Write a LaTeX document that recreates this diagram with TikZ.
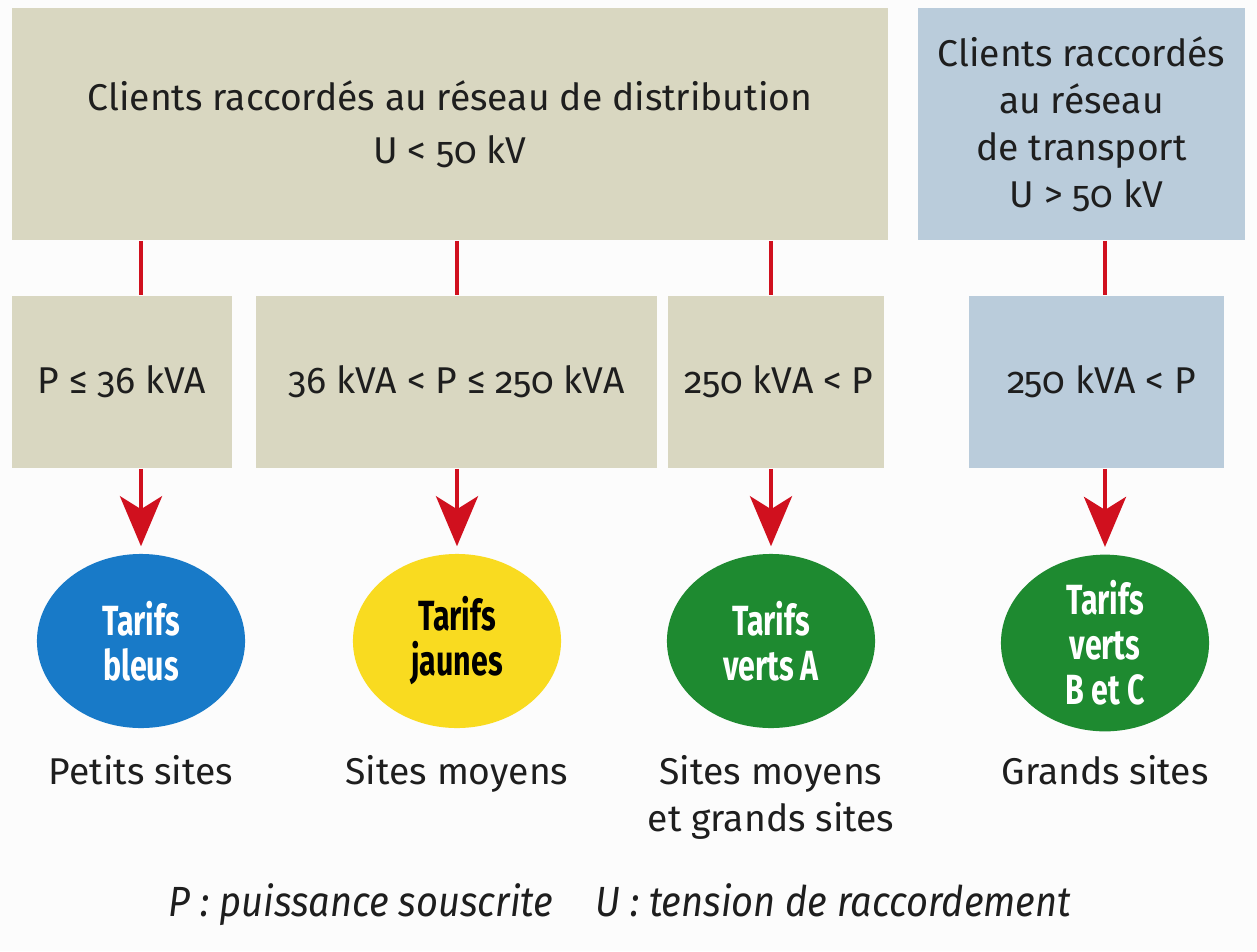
\documentclass[tikz,border=0pt]{standalone}
\usepackage{fontspec}
\setmainfont{Fira Sans}[Numbers=OldStyle]
\newfontfamily\tarifsfont{Fira Sans}[FakeStretch=0.72]
\newfontfamily\notefont{Fira Sans}[FakeStretch=0.9]
\usetikzlibrary{positioning,shapes.geometric,arrows.meta}
\definecolor{beige}{RGB}{217,215,193}
\definecolor{gris}{RGB}{186,204,219}
\definecolor{rouge}{RGB}{208,16,30}
\definecolor{bleu}{RGB}{24,122,200}
\definecolor{jaune}{RGB}{249,219,32}
\definecolor{vert}{RGB}{30,138,48}
\definecolor{texte}{RGB}{30,30,30}
\definecolor{fond}{RGB}{252,252,252}

\begin{document}
\begin{tikzpicture}
            [
            x=0.01cm, y=-0.01cm,
            every node/.style={font=\fontsize{10.6}{13.4}\selectfont, text=texte},
            boite/.style={inner sep=0, align=center},
            tarif/.style={ellipse, inner sep=0, minimum width=2.08cm, minimum height=1.74cm,
              align=center, font=\tarifsfont\bfseries\fontsize{12}{12.8}\selectfont},
            legende/.style={align=center, inner sep=0},
            lien/.style={draw=rouge, line width=1.2pt},
            fleche/.style={lien, -{Stealth[length=0.5cm, width=0.42cm, inset=0.13cm]}, shorten >=0.07cm}
            ]
        \fill[fond] (0,0) rectangle (1257,951);
        % reseaux
        \node[boite, fill=beige, minimum width=8.76cm, minimum height=2.32cm] (distrib) at (450,124)
            {Clients raccordés au réseau de distribution\\[0.15em] U < 50 kV};
        \node[boite, fill=gris, minimum width=3.27cm, minimum height=2.32cm] (transp) at (1081.5,124)
            {Clients raccordés\\au réseau\\de transport\\\ U > 50 kV};
        % puissances
        \node[boite, fill=beige, minimum width=2.20cm, minimum height=1.72cm] (p1) at (122,382) {P ≤ 36 kVA};
        \node[boite, fill=beige, minimum width=4.01cm, minimum height=1.72cm] (p2) at (456.5,382) {36 kVA < P ≤ 250 kVA};
        \node[boite, fill=beige, minimum width=2.16cm, minimum height=1.72cm] (p3) at (776,382) {\,250 kVA < P};
        \node[boite, fill=gris, minimum width=2.55cm, minimum height=1.72cm] (p4) at (1096.5,382) {\ 250 kVA < P};
        % tarifs
        \node[tarif, fill=bleu, text=white] (bleus) at (141,641) {Tarifs\\bleus};
        \node[tarif, fill=jaune, text=black] (jaunes) at (457,641) {Tarifs\\jaunes};
        \node[tarif, fill=vert, text=white] (vertsA) at (771,641) {Tarifs\\verts A};
        \node[tarif, fill=vert, text=white] (vertsBC) at (1105,643) {Tarifs\\verts\\B et C};
        % sites
        \node[legende, anchor=north] (petits) at (141,755) {Petits sites};
        \node[legende, anchor=north] (moyens) at (457,755) {Sites moyens};
        \node[legende, anchor=north] (moyensgrands) at (771,755) {Sites moyens\\et grands sites};
        \node[legende, anchor=north] (grands) at (1105,755) {Grands sites};
        \node[legende] (note) at (620,905)
            {\notefont\itshape\fontsize{12}{13.4}\selectfont P : puissance souscrite\quad U : tension de raccordement};
        % liens
        \draw[lien] (distrib.south -| bleus) -- (p1.north -| bleus);
        \draw[lien] (distrib.south -| jaunes) -- (p2.north -| jaunes);
        \draw[lien] (distrib.south -| vertsA) -- (p3.north -| vertsA);
        \draw[lien] (transp.south -| vertsBC) -- (p4.north -| vertsBC);
        \draw[fleche] (p1.south -| bleus) -- (bleus);
        \draw[fleche] (p2.south -| jaunes) -- (jaunes);
        \draw[fleche] (p3.south -| vertsA) -- (vertsA);
        \draw[fleche] (p4.south -| vertsBC) -- (vertsBC);
        \end{tikzpicture}
\end{document}
